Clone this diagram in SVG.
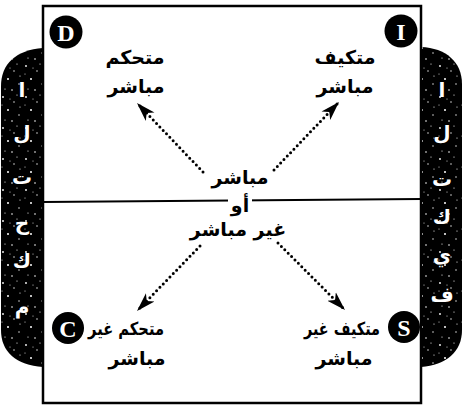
<svg xmlns="http://www.w3.org/2000/svg" width="464" height="407" viewBox="0 0 464 407">
<style>
.lbl{font-family:"DejaVu Sans",sans-serif;font-weight:bold;font-size:19px;fill:#000;text-anchor:middle}
.tab{font-family:"DejaVu Sans",sans-serif;font-weight:bold;font-size:20px;fill:#fff;text-anchor:middle}
.badge{fill:#000}
.bl{font-family:"Liberation Serif",serif;font-weight:bold;font-size:24px;fill:#fff;text-anchor:middle}
.dots{fill:none;stroke:#000;stroke-width:3;stroke-linecap:round;stroke-dasharray:0 4.8}
</style>
<defs>
<pattern id="speck" width="23" height="31" patternUnits="userSpaceOnUse">
<circle cx="3" cy="4" r="0.9" fill="#fff"/>
<circle cx="14" cy="9" r="0.7" fill="#fff"/>
<circle cx="8" cy="17" r="1" fill="#fff"/>
<circle cx="19" cy="22" r="0.7" fill="#fff"/>
<circle cx="5" cy="27" r="0.6" fill="#fff"/>
<circle cx="17" cy="2" r="0.6" fill="#fff"/>
<circle cx="12" cy="28" r="0.8" fill="#fff"/>
<circle cx="20" cy="14" r="0.6" fill="#fff"/>
<circle cx="2" cy="12" r="0.5" fill="#fff"/>
<circle cx="10" cy="6" r="0.5" fill="#fff"/>
</pattern>
<marker id="ah" markerUnits="userSpaceOnUse" markerWidth="20" markerHeight="14" refX="19" refY="7" orient="auto">
<path d="M0,1 L19,7 L0,13 L5,7 Z" fill="#000"/>
</marker>
</defs>
<rect width="464" height="407" fill="#fff"/>
<g id="tab-left">
<path d="M43,48 C16,50 1,64 1,86 L1,330 C1,352 16,365 43,367 Z" fill="#000"/>
<path d="M43,48 C16,50 1,64 1,86 L1,330 C1,352 16,365 43,367 Z" fill="url(#speck)"/>
<text class="tab" x="22" y="97">ا</text>
<text class="tab" x="22" y="140">ل</text>
<text class="tab" x="22" y="184">ت</text>
<text class="tab" x="22" y="230">ح</text>
<text class="tab" x="22" y="268">ك</text>
<text class="tab" x="22" y="314">م</text>
</g>
<g id="tab-right">
<path d="M421,47 C446,48 462,62 462,84 L462,330 C462,352 446,365 421,367 Z" fill="#000"/>
<path d="M421,47 C446,48 462,62 462,84 L462,330 C462,352 446,365 421,367 Z" fill="url(#speck)"/>
<text class="tab" x="442" y="97">ا</text>
<text class="tab" x="442" y="140">ل</text>
<text class="tab" x="442" y="186">ت</text>
<text class="tab" x="442" y="224">ك</text>
<text class="tab" x="442" y="262">ي</text>
<text class="tab" x="442" y="302">ف</text>
</g>
<g id="frame">
<rect x="43" y="6" width="378" height="397" fill="none" stroke="#000" stroke-width="2.5"/>
<line x1="43" y1="202" x2="421" y2="199" stroke="#000" stroke-width="1.8"/>
</g>
<g id="connectors">
<line class="dots" x1="203" y1="172" x2="137" y2="103" marker-end="url(#ah)"/>
<line class="dots" x1="274" y1="170" x2="339" y2="102" marker-end="url(#ah)"/>
<line class="dots" x1="200" y1="246" x2="137" y2="311" marker-end="url(#ah)"/>
<line class="dots" x1="278" y1="243" x2="345" y2="310" marker-end="url(#ah)"/>
</g>
<g id="center">
<rect x="228" y="193" width="24" height="14" fill="#fff"/>
<text class="lbl" x="240" y="184">مباشر</text>
<text class="lbl" x="240" y="212">أو</text>
<text class="lbl" x="238" y="236">غير مباشر</text>
</g>
<g id="node-D">
<circle class="badge" cx="66" cy="32" r="16.5"/>
<text class="bl" x="66" y="40.5">D</text>
<text class="lbl" x="135" y="64">متحكم</text>
<text class="lbl" x="136" y="93">مباشر</text>
</g>
<g id="node-I">
<circle class="badge" cx="401" cy="31" r="16.5"/>
<text class="bl" x="401" y="39.5">I</text>
<text class="lbl" x="345" y="64">متكيف</text>
<text class="lbl" x="345" y="93">مباشر</text>
</g>
<g id="node-C">
<circle class="badge" cx="68" cy="328" r="16"/>
<text class="bl" x="68" y="336.5">C</text>
<text class="lbl" x="126" y="335" style="font-size:18px" textLength="76" lengthAdjust="spacingAndGlyphs">متحكم غير</text>
<text class="lbl" x="137" y="365">مباشر</text>
</g>
<g id="node-S">
<circle class="badge" cx="404" cy="327" r="16"/>
<text class="bl" x="404" y="335.5">S</text>
<text class="lbl" x="342" y="335" style="font-size:18px" textLength="76" lengthAdjust="spacingAndGlyphs">متكيف غير</text>
<text class="lbl" x="344" y="365">مباشر</text>
</g>
</svg>
